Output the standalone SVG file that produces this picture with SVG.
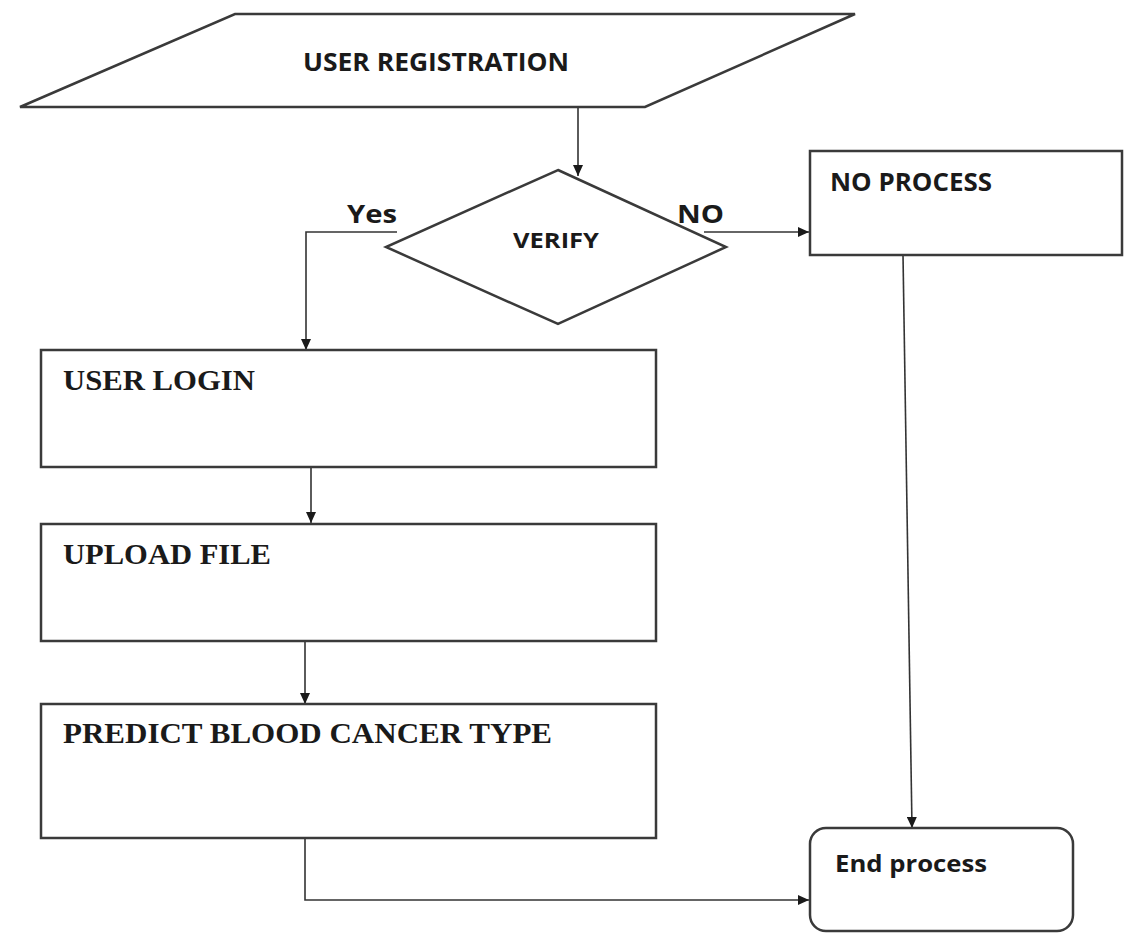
<svg xmlns="http://www.w3.org/2000/svg" width="1130" height="933" viewBox="0 0 1130 933">
  <style>
    .shape { fill: #ffffff; stroke: #3a3a3a; stroke-width: 2.5; }
    .link { fill: none; stroke: #333333; stroke-width: 1.6; }
    .sans { font-family: "Open Sans", "Liberation Sans", sans-serif; font-weight: bold; fill: #1a1a1a; }
    .serif { font-family: "Liberation Serif", "Times New Roman", serif; font-weight: bold; fill: #1a1a1a; }
  </style>
  <defs>
    <marker id="arrow" markerUnits="userSpaceOnUse" markerWidth="12" markerHeight="10" refX="11" refY="5" orient="auto">
      <path d="M0,0 L11,5 L0,10 z" fill="#1a1a1a"/>
    </marker>
  </defs>
  <rect width="1130" height="933" fill="#ffffff"/>

  <!-- connectors -->
  <g id="connectors">
    <path class="link" d="M578,107 V176" marker-end="url(#arrow)"/>
    <path class="link" d="M397,232 H306 V350" marker-end="url(#arrow)"/>
    <path class="link" d="M704,232 H809" marker-end="url(#arrow)"/>
    <path class="link" d="M903,255 L912,828" marker-end="url(#arrow)"/>
    <path class="link" d="M311,457 V523" marker-end="url(#arrow)"/>
    <path class="link" d="M305,632 V704" marker-end="url(#arrow)"/>
    <path class="link" d="M305,838 V900 H809" marker-end="url(#arrow)"/>
    <text class="sans" x="347" y="223" font-size="25" textLength="50" lengthAdjust="spacingAndGlyphs">Yes</text>
    <text class="sans" x="677" y="223" font-size="25" textLength="47" lengthAdjust="spacingAndGlyphs">NO</text>
  </g>

  <g id="user-registration">
    <polygon class="shape" points="235,14 855,14 645,107 20,107"/>
    <text class="sans" x="303" y="71" font-size="25" textLength="266" lengthAdjust="spacingAndGlyphs">USER REGISTRATION</text>
  </g>

  <g id="verify">
    <polygon class="shape" points="558,170 726,247 558,324 386,247" stroke-width="2"/>
    <text class="sans" x="513" y="248" font-size="22" textLength="86" lengthAdjust="spacingAndGlyphs">VERIFY</text>
  </g>

  <g id="no-process">
    <rect class="shape" x="810" y="151" width="312" height="104"/>
    <text class="sans" x="830" y="191" font-size="25" textLength="162" lengthAdjust="spacingAndGlyphs">NO PROCESS</text>
  </g>

  <g id="user-login">
    <rect class="shape" x="41" y="350" width="615" height="117"/>
    <text class="serif" x="63" y="390" font-size="29" textLength="192" lengthAdjust="spacingAndGlyphs">USER LOGIN</text>
  </g>

  <g id="upload-file">
    <rect class="shape" x="41" y="524" width="615" height="117"/>
    <text class="serif" x="63" y="564" font-size="29" textLength="208" lengthAdjust="spacingAndGlyphs">UPLOAD FILE</text>
  </g>

  <g id="predict">
    <rect class="shape" x="41" y="704" width="615" height="134"/>
    <text class="serif" x="63" y="743" font-size="29" textLength="489" lengthAdjust="spacingAndGlyphs">PREDICT BLOOD CANCER TYPE</text>
  </g>

  <g id="end-process">
    <rect class="shape" x="810" y="828" width="263" height="103" rx="16" ry="16"/>
    <text class="sans" x="835" y="872" font-size="24" textLength="152" lengthAdjust="spacingAndGlyphs">End process</text>
  </g>
</svg>
